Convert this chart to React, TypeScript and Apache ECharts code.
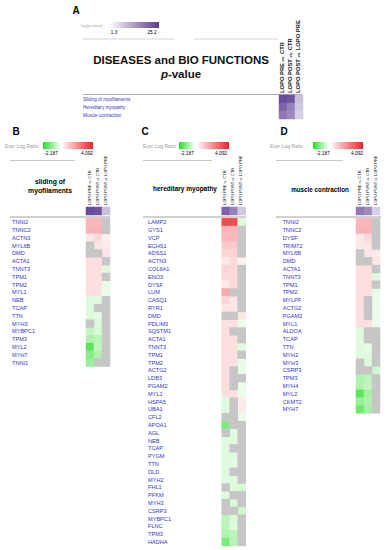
import React, { useEffect, useRef } from 'react';
import * as echarts from 'echarts';

// ---------- data ----------
const colLabels = ['LOPO PRE vs. CTR', 'LOPO POST vs. CTR', 'LOPO POST vs. LOPO PRE'];
const functionNames = ['Sliding of myofilaments', 'Hereditary myopathy', 'Muscle contraction'];
const pSliding = [23, 22, 8];
const pHereditary = [20, 16, 7];
const pMuscle = [17, 15, 6];
const pMin = 1.3;
const pMax = 25.2;
const exprMin = -2.187;
const exprMax = 4.092;

const bGenes = ['TNNI2', 'TNNC2', 'ACTN3', 'MYL6B', 'DMD', 'ACTA1', 'TNNT3', 'TPM1', 'TPM2', 'MYL1', 'NEB', 'TCAP', 'TTN', 'MYH3', 'MYBPC1', 'TPM3', 'MYL2', 'MYH7', 'TNNI1'];
const bValues: (number | null)[][] = [
  [1.3, 1.3, null], [1.4, 1.4, null], [0.4, 0.7, 0.3], [null, 0.5, 0.4], [null, null, 0.5],
  [0.6, 0.6, null], [0.6, 0.6, -0.3], [0.6, 0.6, null], [0.6, 0.6, -0.25], [0.6, 0.6, -0.2],
  [-0.3, -0.3, null], [-0.3, null, null], [-0.3, -0.25, null], [null, -0.35, null], [-0.6, -0.4, null],
  [-0.8, -0.7, null], [-1.6, -0.6, null], [-1.2, -0.8, null], [-1.0, null, null],
];

const cGenes = ['LAMP2', 'GYS1', 'VCP', 'ECHS1', 'ADSS1', 'ACTN3', 'COL6A1', 'ENO3', 'DYSF', 'LUM', 'CASQ1', 'RYR1', 'DMD', 'PDLIM3', 'SQSTM1', 'ACTA1', 'TNNT3', 'TPM1', 'TPM2', 'ACTG2', 'LDB3', 'PGAM2', 'MYL1', 'HSPA5', 'UBA1', 'CFL2', 'APOA1', 'AGL', 'NEB', 'TCAP', 'PYGM', 'TTN', 'DLD', 'MYH2', 'FHL1', 'PFKM', 'MYH3', 'CSRP3', 'MYBPC1', 'FLNC', 'TPM3', 'HADHA'];
const cValues: (number | null)[][] = [
  [3.3, 3.3, -0.35], [1.4, 1.3, null], [1.3, 1.3, null], [1.0, 1.0, null], [0.8, 0.8, null],
  [0.4, 0.7, 0.3], [0.8, 0.7, null], [0.7, 0.7, null], [0.4, 0.7, null], [1.6, null, null],
  [0.8, 0.5, null], [0.5, 0.5, null], [null, null, 0.5], [0.6, 0.6, -0.2], [0.6, null, null],
  [0.6, 0.6, null], [0.6, 0.6, -0.3], [0.6, 0.6, null], [0.6, 0.6, -0.25], [0.6, null, -0.2],
  [0.6, null, null], [0.6, null, -0.2], [0.6, 0.6, -0.2], [-0.3, null, 0.4], [-0.3, null, 0.4],
  [null, null, -0.2], [-1.3, null, null], [null, -0.3, null], [-0.3, -0.3, null], [-0.3, null, null],
  [-0.3, -0.3, null], [-0.3, -0.25, null], [-0.3, null, null], [-0.3, -0.3, null], [null, -0.3, -0.4],
  [-0.3, null, null], [null, -0.35, null], [null, null, -0.5], [-0.7, -0.4, null], [-0.7, -0.3, null],
  [-0.8, -0.7, null], [-1.3, -0.7, null],
];

const dGenes = ['TNNI2', 'TNNC2', 'DYSF', 'TRIM72', 'MYL6B', 'DMD', 'ACTA1', 'TNNT3', 'TPM1', 'TPM2', 'MYLPF', 'ACTG2', 'PGAM2', 'MYL1', 'ALDOA', 'TCAP', 'TTN', 'MYH2', 'MYH3', 'CSRP3', 'TPM3', 'MYH4', 'MYL2', 'CKMT2', 'MYH7'];
const dValues: (number | null)[][] = [
  [1.3, 1.3, null], [1.4, 1.4, null], [0.4, 0.7, null], [0.4, 0.5, null], [null, 0.5, 0.4],
  [null, null, 0.5], [0.6, 0.6, null], [0.6, 0.6, -0.3], [0.6, 0.6, null], [0.6, 0.6, -0.25],
  [0.6, null, -0.2], [0.6, null, -0.2], [0.6, null, -0.2], [0.6, 0.6, -0.2], [-0.3, null, null],
  [-0.3, null, null], [-0.3, -0.25, null], [-0.3, -0.3, null], [null, -0.35, null], [null, null, -0.5],
  [-0.8, -0.7, null], [-0.8, -0.6, null], [-1.6, -0.9, null], [-1.0, -0.8, null], [-1.4, -0.9, null],
];

// ---------- style constants ----------
const FONT = '"Liberation Sans", Arial, sans-serif';
const BLUE = '#3434c8';
const GRAY = '#c6c6c6';
const RED = [238, 34, 40];
const GREEN = [34, 221, 34];
const ROW = 7.8;
const GENE_TOP = 218.3;
const CELL = 8;

function mix(c: number[], t: number) {
  const r = Math.round(255 + (c[0] - 255) * t);
  const g = Math.round(255 + (c[1] - 255) * t);
  const b = Math.round(255 + (c[2] - 255) * t);
  return `rgb(${r},${g},${b})`;
}
function exprColor(v: number) {
  return v >= 0 ? mix(RED, Math.min(1, v / exprMax)) : mix(GREEN, Math.min(1, v / exprMin));
}
const exprStops: string[] = [];
for (let i = 0; i <= 160; i++) exprStops.push(exprColor(exprMin + ((exprMax - exprMin) * i) / 160));

function splitData(values: (number | null)[][]) {
  const main: number[][] = [];
  const miss: number[][] = [];
  values.forEach((row, i) => row.forEach((v, j) => (v === null ? miss.push([j, i, 0]) : main.push([j, i, v]))));
  return { main, miss };
}

function rowAxis(gridIndex: number, data: string[], margin: number, fs: number) {
  return {
    type: 'category', gridIndex, data, inverse: true,
    axisLine: { show: false }, axisTick: { show: false }, splitLine: { show: false },
    axisLabel: { interval: 0, align: 'left', margin, fontSize: fs, color: BLUE, fontFamily: FONT },
  };
}

function txt(x: number, y: number, text: string, fontSize: number, extra: any = {}) {
  const align = extra.align || 'center';
  const style: any = {
    text, fontSize, fontFamily: FONT, fill: extra.fill || '#000',
    fontWeight: extra.fontWeight || 'normal',
    align, textAlign: align, verticalAlign: 'middle', textVerticalAlign: 'middle',
  };
  if (extra.rich) style.rich = extra.rich;
  return { type: 'text', x, y, silent: true, rotation: extra.rotation || 0, style };
}

// rotated column header labels (reading bottom to top), one per heatmap column
function colHeaders(left: number, bottom: number, fs: number, bold: boolean) {
  const w = bold ? 'bold' : 'normal';
  return colLabels.map((label, j) => {
    const [a, b] = label.split(' vs. ');
    return txt(left + CELL * j + CELL / 2 - 0.8, bottom, `{a|${a} }{v|vs.}{a| ${b}}`, fs, {
      align: 'left', rotation: Math.PI / 2, fontWeight: w, fill: '#111',
      rich: {
        a: { fontSize: fs, fontWeight: w, fill: '#111', fontFamily: FONT },
        v: { fontSize: fs * 0.72, fontWeight: w, fill: '#111', fontFamily: FONT },
      },
    });
  });
}

function hline(x1: number, x2: number, y: number, stroke = '#bbb', lw = 0.8) {
  return { type: 'line', silent: true, shape: { x1, y1: y, x2, y2: y }, style: { stroke, lineWidth: lw } };
}
function exprLegend(textX: number, greenX: number, greenW: number, redX: number, redW: number, minX: number, maxX: number) {
  return [
    txt(textX, 145.5, 'Expr Log Ratio', 5, { align: 'left', fill: '#a0a0a0' }),
    {
      type: 'rect', silent: true, shape: { x: greenX, y: 142, width: greenW, height: 7 },
      style: { fill: new echarts.graphic.LinearGradient(0, 0, 1, 0, [{ offset: 0, color: exprColor(exprMin) }, { offset: 1, color: '#f4fff4' }]) },
    },
    {
      type: 'rect', silent: true, shape: { x: redX, y: 142, width: redW, height: 7 },
      style: { fill: new echarts.graphic.LinearGradient(0, 0, 1, 0, [{ offset: 0, color: '#fff0f0' }, { offset: 1, color: exprColor(exprMax) }]) },
    },
    txt(minX, 153.5, String(exprMin), 4.8),
    txt(maxX, 153.5, String(exprMax), 4.8),
  ];
}

export default function App() {
  const ref = useRef<HTMLDivElement>(null);
  useEffect(() => {
    if (!ref.current) return;
    const chart = echarts.init(ref.current, null, { renderer: 'svg' });
    const b = splitData(bValues);
    const c = splitData(cValues);
    const d = splitData(dValues);
    const gridBase = { outerBoundsMode: 'none', containLabel: false };
    const L = { A: 279, B: 86, C: 221.7, D: 356 };
    const grids = [
      { left: L.A, top: 95, width: 3 * CELL, height: 24 },
      { left: L.B, top: 207, width: 3 * CELL, height: 8 },
      { left: L.B, top: GENE_TOP, width: 3 * CELL, height: bGenes.length * ROW },
      { left: L.C, top: 207, width: 3 * CELL, height: 8 },
      { left: L.C, top: GENE_TOP, width: 3 * CELL, height: cGenes.length * ROW },
      { left: L.D, top: 207, width: 3 * CELL, height: 8 },
      { left: L.D, top: GENE_TOP, width: 3 * CELL, height: dGenes.length * ROW },
    ].map((g) => ({ ...gridBase, ...g }));

    const hidX = (gridIndex: number) => ({ type: 'category', gridIndex, data: colLabels, show: false });
    const hidY = (gridIndex: number) => ({ type: 'category', gridIndex, data: ['p'], show: false });

    const xAxis = [0, 1, 2, 3, 4, 5, 6].map(hidX);
    const yAxis = [
      rowAxis(0, functionNames, L.A - 83, 4.6),
      hidY(1),
      rowAxis(2, bGenes, L.B - 12, 5.6),
      hidY(3),
      rowAxis(4, cGenes, L.C - 148, 5.6),
      hidY(5),
      rowAxis(6, dGenes, L.D - 282.7, 5.6),
    ];

    const pRows = [pSliding, pHereditary, pMuscle];
    const aData: number[][] = [];
    pRows.forEach((row, i) => row.forEach((v, j) => aData.push([j, i, v])));
    const hdr = (row: number[]) => row.map((v, j) => [j, 0, v]);

    const hm = (xi: number, data: number[][]) => ({
      type: 'heatmap', xAxisIndex: xi, yAxisIndex: xi, data, silent: true,
    });

    const series = [
      hm(0, aData),
      hm(1, hdr(pSliding)),
      hm(3, hdr(pHereditary)),
      hm(5, hdr(pMuscle)),
      hm(2, b.main),
      hm(4, c.main),
      hm(6, d.main),
      hm(2, b.miss),
      hm(4, c.miss),
      hm(6, d.miss),
    ];

    const graphic = [
      // Panel A
      txt(76, 10.5, 'A', 10, { fontWeight: 'bold' }),
      txt(80, 25, '-log(p-value)', 4, { align: 'left', fill: '#a8a8a8' }),
      {
        type: 'rect', silent: true, shape: { x: 109, y: 22, width: 50, height: 6 },
        style: { fill: new echarts.graphic.LinearGradient(0, 0, 1, 0, [{ offset: 0, color: '#ffffff' }, { offset: 1, color: '#5a3a92' }]) },
      },
      txt(114, 32.5, String(pMin), 4.6),
      txt(152, 32.5, String(pMax), 4.6),
      hline(83, 175, 39, '#c8c8c8'),
      hline(194, 278, 39, '#c8c8c8'),
      txt(181, 60, 'DISEASES and BIO FUNCTIONS', 11.5, { fontWeight: 'bold', fill: '#111' }),
      txt(181, 74, '{i|p}-value', 11.5, {
        fontWeight: 'bold', fill: '#111',
        rich: { i: { fontStyle: 'italic', fontWeight: 'bold', fontSize: 11.5, fontFamily: FONT, fill: '#111' } },
      }),
      hline(83, 302, 94.5, '#9a9a9a'),
      ...colHeaders(L.A, 93, 5.8, true),
      // Panel B
      txt(16, 131.5, 'B', 10, { fontWeight: 'bold' }),
      ...exprLegend(5, 43, 17, 63, 30, 51, 87),
      hline(10, 75, 160.5),
      txt(50, 181, 'sliding of', 6.8, { fontWeight: 'bold', fill: '#000' }),
      txt(50, 190, 'myofilaments', 6.8, { fontWeight: 'bold', fill: '#000' }),
      hline(10, 110, 217, '#8a8a8a'),
      ...colHeaders(L.B, 205, 4, false),
      // Panel C
      txt(145, 131.5, 'C', 10, { fontWeight: 'bold' }),
      ...exprLegend(143, 179, 15, 198, 31, 187, 221),
      hline(143, 212, 160.5),
      txt(185, 188, 'hereditary myopathy', 6.5, { fontWeight: 'bold', fill: '#000' }),
      hline(143, 246, 217, '#8a8a8a'),
      ...colHeaders(L.C, 205, 4, false),
      // Panel D
      txt(284, 131.5, 'D', 10, { fontWeight: 'bold' }),
      ...exprLegend(270, 313, 15, 332, 31, 323, 357),
      hline(276, 343, 160.5),
      txt(320, 189, 'muscle contraction', 6.3, { fontWeight: 'bold', fill: '#000' }),
      hline(276, 381, 217, '#8a8a8a'),
      ...colHeaders(L.D, 205, 4, false),
    ];

    chart.setOption({
      animation: false,
      backgroundColor: '#fff',
      textStyle: { fontFamily: FONT },
      grid: grids,
      xAxis,
      yAxis,
      visualMap: [
        { type: 'continuous', show: false, min: pMin, max: pMax, seriesIndex: [0, 1, 2, 3], inRange: { color: ['#f6f3fa', '#5a3a92'] } },
        { type: 'continuous', show: false, min: exprMin, max: exprMax, seriesIndex: [4, 5, 6], inRange: { color: exprStops } },
        { type: 'continuous', show: false, min: 0, max: 1, seriesIndex: [7, 8, 9], inRange: { color: [GRAY, GRAY] } },
      ],
      series,
      graphic,
    } as any);
    return () => chart.dispose();
  }, []);
  return <div ref={ref} style={{ position: 'absolute', left: 0, top: 0, width: 389, height: 550 }} />;
}
